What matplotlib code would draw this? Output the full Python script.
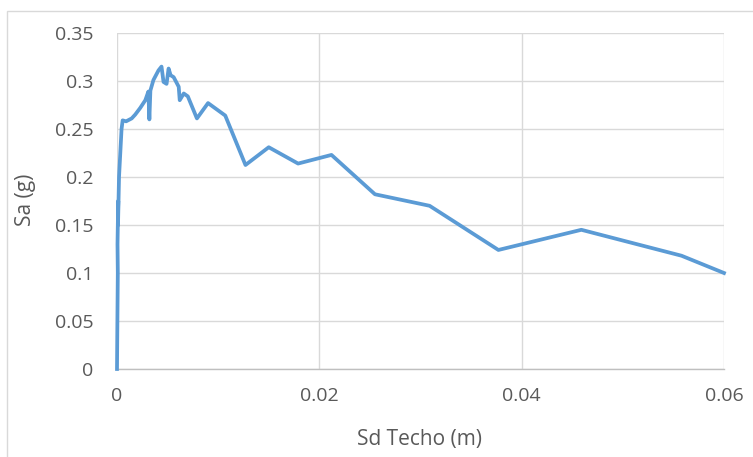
import matplotlib
matplotlib.use("Agg")
import matplotlib.pyplot as plt
from matplotlib.patches import Rectangle

# Data (pushover / capacity curve)
sd_techo = [0.0, 0.00003, 0.00008, 0.00005, 0.00012, 0.0001, 0.0002, 0.00025, 0.00035,
            0.00045, 0.00056, 0.0009, 0.00145, 0.0018, 0.0023, 0.0028, 0.0031, 0.0032,
            0.0033, 0.0036, 0.0041, 0.0044, 0.0046, 0.0049, 0.0051, 0.0053, 0.0056,
            0.0061, 0.0062, 0.0066, 0.0070, 0.0079, 0.0090, 0.0107, 0.0127, 0.0150,
            0.0179, 0.0212, 0.0255, 0.0309, 0.0377, 0.0459, 0.0558, 0.0600]
sa_g = [0.0, 0.04, 0.10, 0.13, 0.175, 0.15, 0.20, 0.21, 0.23,
        0.25, 0.259, 0.258, 0.261, 0.265, 0.272, 0.280, 0.289, 0.260,
        0.290, 0.301, 0.311, 0.315, 0.299, 0.297, 0.313, 0.306, 0.304,
        0.294, 0.280, 0.287, 0.284, 0.261, 0.277, 0.264, 0.2125, 0.231,
        0.214, 0.223, 0.182, 0.170, 0.124, 0.145, 0.118, 0.100]

x_ticks = [0, 0.02, 0.04, 0.06]
x_ticklabels = ["0", "0.02", "0.04", "0.06"]
y_ticks = [0, 0.05, 0.1, 0.15, 0.2, 0.25, 0.3, 0.35]
y_ticklabels = ["0", "0.05", "0.1", "0.15", "0.2", "0.25", "0.3", "0.35"]

plt.rcParams['font.family'] = ['Open Sans', 'DejaVu Sans']

W, H = 753, 457
fig = plt.figure(figsize=(W / 100, H / 100), dpi=100)
fig.patch.set_facecolor("white")

# outer chart frame (partially visible)
fig.patches.append(Rectangle((7 / W, -0.1), 1.2, 1 - 11 / H + 0.1, transform=fig.transFigure,
                             fill=False, edgecolor="#d9d9d9", linewidth=1.0))

ax = fig.add_axes([117 / W, 1 - 369 / H, (724 - 117) / W, (369 - 33) / H])
ax.plot(sd_techo, sa_g, color="#5b9bd5", linewidth=2.7, solid_joinstyle="round", zorder=3,
        clip_on=False)

ax.set_xlim(0, 0.06)
ax.set_ylim(0, 0.35)
ax.set_xticks(x_ticks)
ax.set_xticklabels(x_ticklabels)
ax.set_yticks(y_ticks)
ax.set_yticklabels(y_ticklabels)
ax.grid(True, color="#d9d9d9", linewidth=1.0, zorder=0)
ax.set_axisbelow(True)
for s in ["top", "right", "left"]:
    ax.spines[s].set_visible(False)
ax.spines["bottom"].set_color("#bfbfbf")
ax.spines["bottom"].set_linewidth(1.0)
ax.tick_params(length=0, labelsize=14, colors="#595959")
ax.tick_params(axis="y", pad=17)
ax.tick_params(axis="x", pad=13)

fig.text(25 / W, 1 - 200 / H, "Sa (g)", rotation=90, ha="center", va="center",
         fontsize=15, color="#595959")
fig.text(420 / W, 1 - 440 / H, "Sd Techo (m)", ha="center", va="center",
         fontsize=15, color="#595959")

fig.savefig("out.png", dpi=100, facecolor="white")
